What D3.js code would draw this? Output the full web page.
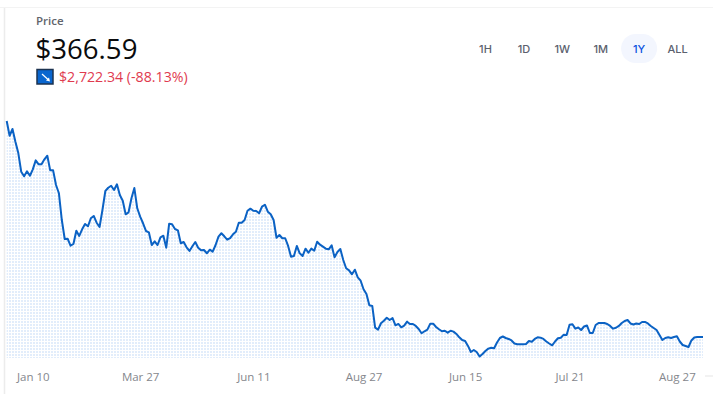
<!DOCTYPE html>
<html>
<head>
<meta charset="utf-8">
<script src="https://cdn.jsdelivr.net/npm/d3@7"></script>
<style>
    html, body { margin: 0; padding: 0; background: #fff; overflow: hidden; }
    svg { display: block; }
    text { font-family: "Open Sans", "Noto Sans", sans-serif; }
    .range-btn { font-family: Inter, sans-serif; font-size: 11px; font-weight: 500; text-anchor: middle; }
    .x-axis text { font-size: 11.5px; fill: #85878d; }
</style>
</head>
<body>
<div id="chart"></div>
<script>
// price per day
const prices = [
    3089, 2903, 2988, 2828, 2685, 2450, 2392, 2455, 2399, 2480, 2593, 2543, 2543, 2606, 2651, 2467, 2467, 2282, 2178, 1841,
    1602, 1606, 1517, 1539, 1706, 1640, 1724, 1791, 1762, 1863, 1892, 1807, 1753, 1967, 2207, 2248, 2273, 2219, 2291, 2156,
    2084, 1913, 1938, 2115, 2244, 1989, 1883, 1800, 1703, 1686, 1526, 1573, 1526, 1623, 1643, 1492, 1795, 1787, 1728,
    1711, 1548, 1564, 1497, 1451, 1510, 1564, 1492, 1459, 1463, 1422, 1467, 1442, 1526, 1631, 1674, 1636, 1593, 1614, 1661,
    1694, 1807, 1807, 1841, 1958, 1984, 1958, 1955, 1926, 2009, 2034, 1946, 1913, 1841, 1618, 1652, 1611, 1611, 1514, 1379,
    1388, 1514, 1422, 1388, 1480, 1429, 1480, 1454, 1568, 1530, 1505, 1480, 1472, 1522, 1371, 1438, 1476, 1337, 1233, 1207,
    1157, 1215, 1119, 1076, 968, 909, 766, 758, 484, 459, 540, 572, 610, 581, 606, 514, 531, 489, 509, 560,
    531, 531, 506, 468, 414, 439, 459, 535, 535, 493, 464, 439, 446, 421, 446, 434, 405, 363, 329, 317,
    254, 178, 203, 178, 121, 153, 191, 220, 232, 225, 298, 354, 373, 354, 342, 323, 285, 275, 276, 276,
    279, 317, 308, 342, 363, 358, 342, 310, 285, 262, 310, 351, 358, 396, 392, 522, 528, 472, 487, 455,
    499, 512, 417, 417, 518, 543, 543, 543, 531, 506, 472, 483, 506, 543, 569, 581, 537, 525, 537, 531,
    556, 556, 537, 506, 480, 455, 392, 329, 354, 363, 354, 367, 376, 310, 266, 254, 241, 323, 361, 367,
    367, 367
];

const tickIndex = [9, 46, 85, 123, 158, 194, 231];
const tickLabels = ["Jan 10", "Mar 27", "Jun 11", "Aug 27", "Jun 15", "Jul 21", "Aug 27"];

const ranges = ["1H", "1D", "1W", "1M", "1Y", "ALL"];
const activeRange = "1Y";

const width = 713, height = 394;
const svg = d3.select("#chart").append("svg")
    .attr("width", width)
    .attr("height", height);

// frame lines of the screenshot
svg.append("line").attr("x1", 0).attr("x2", width).attr("y1", 7.5).attr("y2", 7.5).attr("stroke", "#f3f3f3");
svg.append("line").attr("x1", 4.5).attr("x2", 4.5).attr("y1", 8).attr("y2", height).attr("stroke", "#ececec").attr("stroke-width", 1.5);
svg.append("line").attr("x1", 705).attr("x2", width).attr("y1", 376).attr("y2", 376).attr("stroke", "#eeeeee").attr("stroke-width", 1.5);

// dotted fill
const pattern = svg.append("defs").append("pattern")
    .attr("id", "dots")
    .attr("patternUnits", "userSpaceOnUse")
    .attr("width", 3)
    .attr("height", 3);
pattern.append("rect")
    .attr("width", 2)
    .attr("height", 2)
    .attr("fill", "#e2edfb");

// scales
const x = d3.scaleLinear().domain([0, prices.length - 1]).range([6.7, 703]);
const y = d3.scaleLinear().domain([102, 3089]).range([358, 121]);

const area = d3.area()
    .x((d, i) => x(i))
    .y0(y(102))
    .y1(d => y(d));

const line = d3.line()
    .x((d, i) => x(i))
    .y(d => y(d));

svg.append("path")
    .datum(prices)
    .attr("fill", "url(#dots)")
    .attr("d", area);

svg.append("path")
    .datum(prices)
    .attr("fill", "none")
    .attr("stroke", "#0b62c4")
    .attr("stroke-width", 2)
    .attr("stroke-linejoin", "round")
    .attr("d", line);

// x axis
const xAxis = d3.axisBottom(x)
    .tickValues(tickIndex)
    .tickFormat((d, i) => tickLabels[i])
    .tickSize(0)
    .tickPadding(0);

svg.append("g")
    .attr("class", "x-axis")
    .attr("transform", "translate(0,373)")
    .call(xAxis)
    .call(g => g.select(".domain").remove());

// header
svg.append("text").attr("x", 36).attr("y", 25).attr("font-size", 11.5).attr("font-weight", 600).attr("fill", "#61646c").text("Price");
svg.append("text").attr("x", 35.5).attr("y", 58.5).attr("font-size", 27.6).attr("fill", "#0a0b0d").text("$366.59");

svg.append("rect").attr("x", 37).attr("y", 69.5).attr("width", 16).attr("height", 14.5)
    .attr("fill", "#0a66cf").attr("stroke", "#1c3350").attr("stroke-width", 1.5);
svg.append("line").attr("x1", 42).attr("y1", 74).attr("x2", 48).attr("y2", 79.5)
    .attr("stroke", "#fff").attr("stroke-width", 1.2);
svg.append("path").attr("d", "M50,81.5 L46,80.5 L49,77.5 Z").attr("fill", "#fff");

svg.append("text").attr("x", 59).attr("y", 82).attr("font-size", 14.2).attr("fill", "#df3b4f").text("$2,722.34 (-88.13%)");

// range buttons
const btnX = d3.scalePoint().domain(ranges).range([485.5, 677.5]);

svg.append("rect")
    .attr("x", btnX(activeRange) - 18)
    .attr("y", 34)
    .attr("width", 36)
    .attr("height", 29)
    .attr("rx", 14.5)
    .attr("fill", "#f3f6fe");

svg.selectAll(".range-btn")
    .data(ranges)
    .enter().append("text")
    .attr("class", "range-btn")
    .attr("x", d => btnX(d))
    .attr("y", 53)
    .attr("fill", d => d === activeRange ? "#0a52e0" : "#5b616e")
    .text(d => d);
</script>
</body>
</html>
